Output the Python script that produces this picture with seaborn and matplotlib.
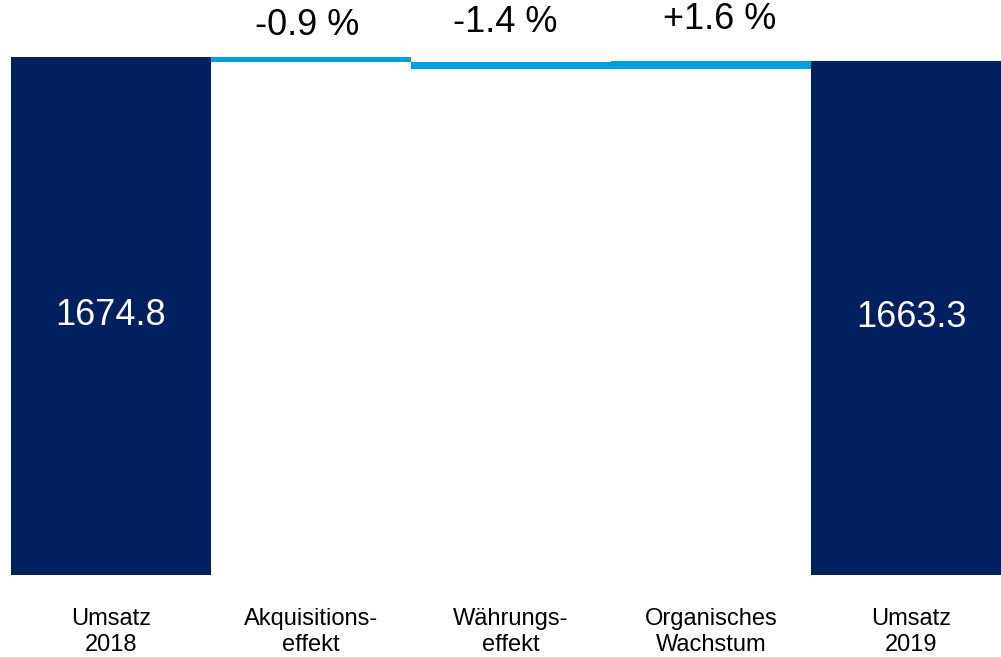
import numpy as np
import pandas as pd
import matplotlib
matplotlib.use("Agg")
import matplotlib.pyplot as plt
import seaborn as sns

# ==============================
# DATA
# ==============================

CATEGORIES = ["Umsatz\n2018", "Akquisitions-\neffekt", "Währungs-\neffekt",
              "Organisches\nWachstum", "Umsatz\n2019"]
START_TOTAL = 1674.8
END_TOTAL = 1663.3
DELTAS = [-15.1, -23.4, 27.0]          # absolute change of the three effects
DELTA_LABELS = ["-0.9 %", "-1.4 %", "+1.6 %"]

NAVY = "#002060"
CYAN = "#009FDF"

# label placement (text only)
LABEL_Y = [1775, 1786, 1796]
LABEL_DX = [-0.02, -0.03, 0.045]

# ==============================
# WATERFALL GEOMETRY
# ==============================

running = START_TOTAL
bottoms, heights = [], []
for d in DELTAS:
    bottoms.append(running + min(d, 0))
    heights.append(abs(d))
    running += d

df_tot = pd.DataFrame({
    "Kategorie": CATEGORIES,
    "Wert": [START_TOTAL, np.nan, np.nan, np.nan, END_TOTAL],
})

# ==============================
# PLOT
# ==============================

sns.set_theme(style="white")
plt.rcParams["font.family"] = ["Liberation Sans", "DejaVu Sans"]
plt.rcParams["text.color"] = "black"
plt.rcParams["xtick.color"] = "black"

fig = plt.figure(figsize=(10.01, 6.57), dpi=100)
ax = fig.add_axes([0, 82 / 657, 1, 575 / 657])

sns.barplot(data=df_tot, x="Kategorie", y="Wert", order=CATEGORIES,
            color=NAVY, saturation=1, width=1.0, ax=ax, linewidth=0)

x_mid = np.arange(1, 4)
ax.bar(x_mid, heights, bottom=bottoms, width=1.0, color=CYAN, linewidth=0)

# value labels inside totals
for i, v in [(0, START_TOTAL), (4, END_TOTAL)]:
    ax.text(i, v * 0.5, f"{v:.1f}", color="white", fontsize=26,
            ha="center", va="center")

# percentage labels above effects
for x, y, dx, lab in zip(x_mid, LABEL_Y, LABEL_DX, DELTA_LABELS):
    ax.text(x + dx, y, lab, color="black", fontsize=26,
            ha="center", va="center")

ax.set_xlim(-0.555, 4.45)
ax.set_ylim(0, 1859)
ax.set_xlabel("")
ax.set_ylabel("")
ax.set_yticks([])
ax.tick_params(axis="x", length=0, pad=24, labelsize=17, labelcolor="black")
for lab in ax.get_xticklabels():
    lab.set_linespacing(1.2)
sns.despine(ax=ax, left=True, bottom=True)

fig.savefig("out.png", dpi=100)
